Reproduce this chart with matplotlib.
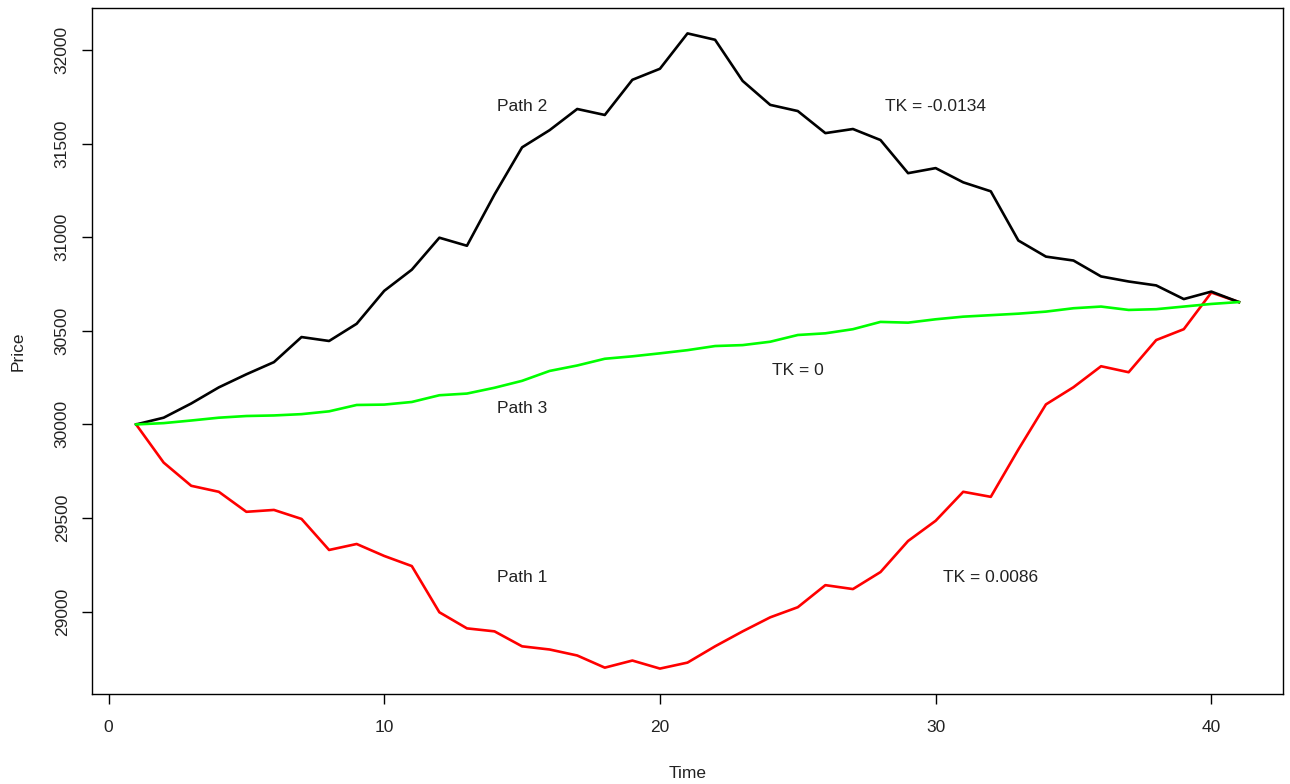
import numpy as np
import matplotlib
matplotlib.use("Agg")
import matplotlib.pyplot as plt

plt.rcParams['font.family'] = ['Liberation Sans', 'DejaVu Sans']

time = np.arange(1, 42)

# path 1 (red), TK = 0.0086
path1 = [30000, 29796, 29672, 29640, 29533, 29543, 29495, 29329, 29361, 29297,
         29243, 28996, 28910, 28894, 28814, 28797, 28765, 28700, 28738, 28695,
         28727, 28814, 28894, 28969, 29023, 29141, 29120, 29211, 29377, 29485,
         29640, 29613, 29866, 30107, 30199, 30311, 30279, 30451, 30509, 30705,
         30654]

# path 2 (black), TK = -0.0134
path2 = [30000, 30036, 30112, 30198, 30268, 30333, 30467, 30446, 30538, 30714,
         30827, 30998, 30955, 31229, 31481, 31573, 31686, 31654, 31842, 31901,
         32090, 32056, 31836, 31708, 31675, 31557, 31579, 31520, 31343, 31370,
         31294, 31246, 30983, 30897, 30876, 30791, 30764, 30743, 30670, 30710,
         30654]

# path 3 (green), TK = 0
path3 = [30000, 30007, 30021, 30036, 30045, 30048, 30055, 30070, 30104, 30106,
         30120, 30156, 30165, 30196, 30233, 30286, 30315, 30351, 30364, 30380,
         30397, 30419, 30424, 30442, 30478, 30487, 30509, 30548, 30544, 30562,
         30576, 30584, 30592, 30603, 30621, 30630, 30612, 30616, 30630, 30644,
         30654]

labels = ["Path 1", "Path 2", "Path 3", "TK = 0.0086", "TK = -0.0134", "TK = 0"]
label_x = [15, 15, 15, 32, 30, 25]
label_y = [29180, 31700, 30085, 29180, 31700, 30290]

xticks = [0, 10, 20, 30, 40]
yticks = [29000, 29500, 30000, 30500, 31000, 31500, 32000]

fig = plt.figure(figsize=(12.9, 7.84), dpi=100)
ax = fig.add_axes([0.0713, 0.1148, 0.9233, 0.875])

lw = 1.9
ax.plot(time, path1, color="#ff0000", lw=lw, zorder=2)
ax.plot(time, path2, color="black", lw=lw, zorder=3)
ax.plot(time, path3, color="#00ff00", lw=lw, zorder=4)

for t, x, y in zip(labels, label_x, label_y):
    ax.text(x, y, t, ha="center", va="center", fontsize=12.5, color="#222222")

# R-style 4% padding
allv = path1 + path2 + path3
lo, hi = min(allv), max(allv)
pad = 0.04 * (hi - lo)
ax.set_xlim(1 - 0.04 * 40, 41 + 0.04 * 40)
ax.set_ylim(lo - pad, hi + pad)

ax.set_xticks(xticks)
ax.set_yticks(yticks)
ax.set_yticklabels([str(v) for v in yticks], rotation=90, va="center")
ax.tick_params(direction="out", length=7, width=1, labelsize=12.5,
               labelcolor="#222222")
ax.tick_params(axis="x", pad=12)
ax.tick_params(axis="y", pad=9)
for s in ax.spines.values():
    s.set_linewidth(1)

ax.set_xlabel("Time", fontsize=12.5, color="#222222", labelpad=22)
ax.set_ylabel("Price", fontsize=12.5, color="#222222", labelpad=21)

fig.savefig("out.png", dpi=100)
